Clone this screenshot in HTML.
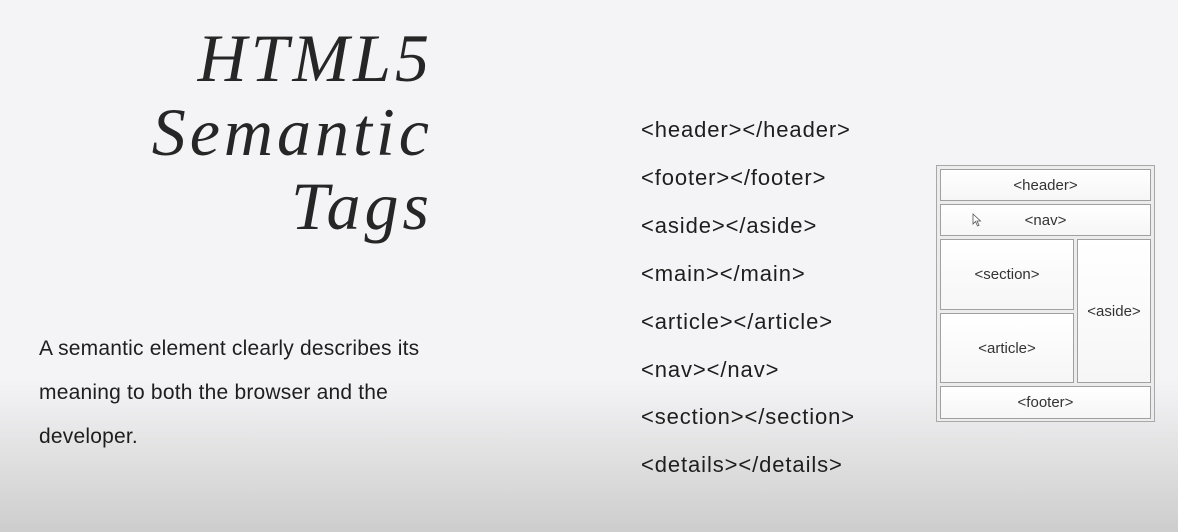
<!DOCTYPE html>
<html><head><meta charset="utf-8"><style>
body{margin:0;width:1178px;height:532px;overflow:hidden;background:linear-gradient(#f4f4f6 0,#f4f4f6 380px,#cdcdcd 532px);font-family:"Liberation Sans",sans-serif;position:relative}
.t{position:absolute;right:745px;font-family:"Liberation Serif",serif;font-style:italic;font-size:68px;color:#262626;text-align:right;line-height:74px;top:21px;letter-spacing:4px}
.p{position:absolute;left:39px;top:327px;font-size:21px;line-height:44px;color:#1e1e1e;width:440px;letter-spacing:0.2px}
.tags{position:absolute;left:641px;top:106px;font-size:22px;line-height:47.9px;color:#1e1e1e;letter-spacing:0.9px}
.d{position:absolute;left:936px;top:165px;width:217px;height:255px;border:1px solid #a8a8a8;background:#ececec}
.b{position:absolute;background:linear-gradient(#fff,#f6f6f6);border:1px solid #a0a0a0;box-sizing:border-box;display:flex;align-items:center;justify-content:center;font-size:15px;color:#333}
</style></head><body>
<div class="t">HTML5<br>Semantic<br>Tags</div>
<div class="p">A semantic element clearly describes its<br>meaning to both the browser and the<br>developer.</div>
<div class="tags">
<div>&lt;header&gt;&lt;/header&gt;</div><div>&lt;footer&gt;&lt;/footer&gt;</div><div>&lt;aside&gt;&lt;/aside&gt;</div><div>&lt;main&gt;&lt;/main&gt;</div><div>&lt;article&gt;&lt;/article&gt;</div><div>&lt;nav&gt;&lt;/nav&gt;</div><div>&lt;section&gt;&lt;/section&gt;</div><div>&lt;details&gt;&lt;/details&gt;</div>
</div>
<div class="d"></div>
<div class="b" style="left:940px;top:169px;width:211px;height:32px">&lt;header&gt;</div>
<div class="b" style="left:940px;top:204px;width:211px;height:32px">&lt;nav&gt;</div>
<div class="b" style="left:940px;top:239px;width:134px;height:71px">&lt;section&gt;</div>
<div class="b" style="left:940px;top:313px;width:134px;height:70px">&lt;article&gt;</div>
<div class="b" style="left:1077px;top:239px;width:74px;height:144px">&lt;aside&gt;</div>
<div class="b" style="left:940px;top:386px;width:211px;height:33px">&lt;footer&gt;</div>
<svg style="position:absolute;left:972px;top:213px" width="10" height="14"><path d="M1 1 L1 11 L3.5 8.5 L5.5 13 L7 12.3 L5 8 L8.5 8 Z" fill="#fff" stroke="#555" stroke-width="0.8"/></svg>
</body></html>
